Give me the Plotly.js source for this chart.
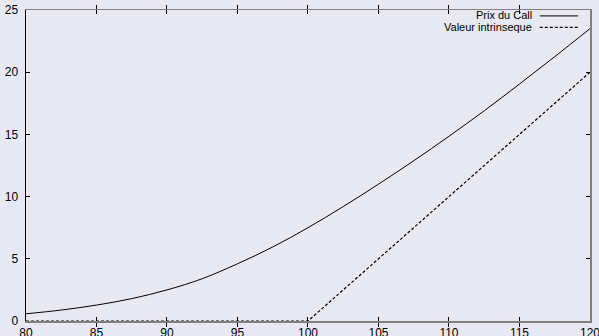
<!DOCTYPE html>
<html>
<head>
<meta charset="utf-8">
<script src="https://cdn.plot.ly/plotly-3.0.1.min.js"></script>
<style>html,body{margin:0;padding:0;background:#e8e8f2;}#chart{width:599px;height:336px;}</style>
</head>
<body>
<div id="chart"></div>
<script>
var spot = [80, 82.5, 85, 87.5, 90, 92.5, 95, 97.5, 100, 102.5, 105, 107.5, 110, 112.5, 115, 117.5, 120];
var callPrice = [0.58, 0.88, 1.28, 1.8, 2.5, 3.4, 4.6, 5.95, 7.5, 9.2, 11.0, 12.88, 14.85, 16.9, 19.05, 21.25, 23.5];
var intrinsicValue = [0, 0, 0, 0, 0, 0, 0, 0, 0, 2.5, 5, 7.5, 10, 12.5, 15, 17.5, 20];
var seriesNames = ["Prix du Call", "Valeur intrinseque"];
var xTicks = [80, 85, 90, 95, 100, 105, 110, 115, 120];
var yTicks = [0, 5, 10, 15, 20, 25];

var fontFam = "'Liberation Sans', Arial, sans-serif";
var traces = [
  {x: spot, y: callPrice, name: seriesNames[0], type: "scatter", mode: "lines",
   line: {color: "#000000", width: 1, shape: "spline", smoothing: 1}, cliponaxis: false},
  {x: spot, y: intrinsicValue, name: seriesNames[1], type: "scatter", mode: "lines",
   line: {color: "#000000", width: 1.2, dash: "3px,2px"}, cliponaxis: false},
  {x: [80, 120], y: [0, 25], yaxis: "y2", type: "scatter", mode: "none", showlegend: false, hoverinfo: "skip"}
];

var layout = {
  width: 599, height: 336,
  paper_bgcolor: "#e8e8f2", plot_bgcolor: "#e8e8f2",
  margin: {l: 26, r: 9, t: 10, b: 15},
  showlegend: false,
  font: {family: fontFam, size: 12, color: "#000000"},
  xaxis: {range: [80, 120.002], tickvals: xTicks, ticktext: xTicks.map(String),
    showgrid: false, zeroline: false, showline: true, linecolor: "#808080", linewidth: 1.5,
    mirror: "allticks", ticks: "inside", ticklen: 4, tickcolor: "#000000", tickwidth: 1,
    ticklabelstandoff: 0, ticklabeloverflow: "allow",
    tickfont: {family: fontFam, size: 12, color: "#000000"}},
  yaxis: {range: [0, 25.001], tickvals: yTicks, ticktext: yTicks.map(String),
    showgrid: false, zeroline: false, showline: true, linecolor: "#000000", linewidth: 1.5,
    ticks: "inside", ticklen: 4, tickcolor: "#000000", tickwidth: 1,
    ticklabelstandoff: 4, ticklabeloverflow: "allow",
    tickfont: {family: fontFam, size: 12, color: "#000000"}},
  yaxis2: {range: [0, 25.001], overlaying: "y", side: "right", tickvals: yTicks,
    showticklabels: false, showgrid: false, zeroline: false, showline: true,
    linecolor: "#808080", linewidth: 1.5, ticks: "inside", ticklen: 4, tickcolor: "#000000"},
  annotations: [
    {xref: "paper", yref: "paper", x: 0.899, y: 0.983, xanchor: "right", yanchor: "middle",
     text: seriesNames[0], showarrow: false, borderpad: 0, font: {family: fontFam, size: 11, color: "#000000"}},
    {xref: "paper", yref: "paper", x: 0.899, y: 0.944, xanchor: "right", yanchor: "middle",
     text: seriesNames[1], showarrow: false, borderpad: 0, font: {family: fontFam, size: 11, color: "#000000"}}
  ],
  shapes: [
    {type: "line", xref: "paper", yref: "paper", x0: 0.911, x1: 0.979, y0: 0.981, y1: 0.981,
     line: {color: "#000000", width: 1}},
    {type: "line", xref: "paper", yref: "paper", x0: 0.911, x1: 0.979, y0: 0.944, y1: 0.944,
     line: {color: "#000000", width: 1.2, dash: "3px,2px"}}
  ]
};

Plotly.newPlot("chart", traces, layout, {displayModeBar: false, staticPlot: true});
</script>
</body>
</html>
